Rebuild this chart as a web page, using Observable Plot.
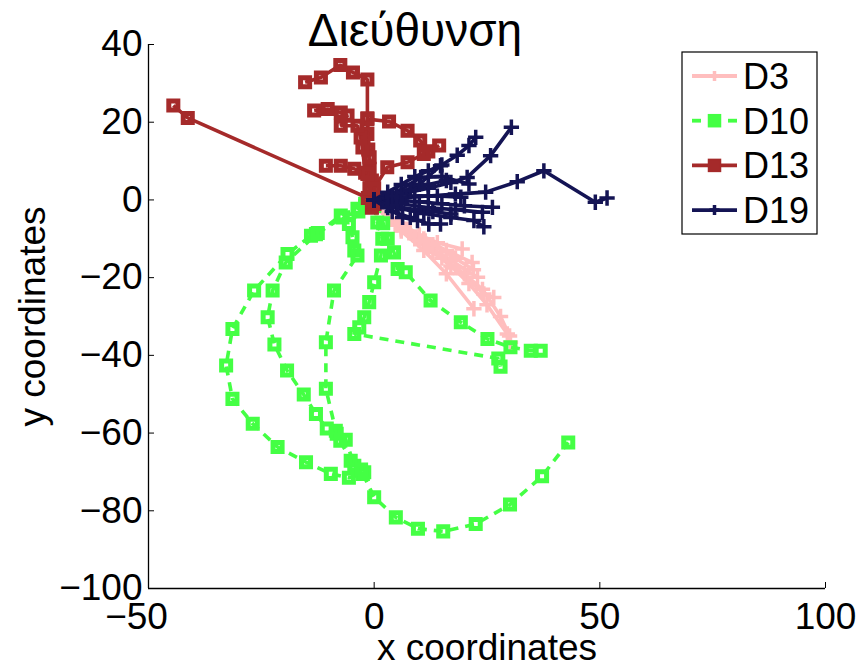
<!DOCTYPE html>
<html>
<head>
<meta charset="utf-8">
<script src="https://cdn.jsdelivr.net/npm/d3@7"></script>
<script src="https://cdn.jsdelivr.net/npm/@observablehq/plot@0.6"></script>
<style>
  html, body { margin: 0; padding: 0; background: #fff; }
</style>
</head>
<body>
<div id="chart"></div>
<script>
// ---- Chart values ----
const titleText = "Διεύθυνση";
const xLabel = "x coordinates";
const yLabel = "y coordinates";
const xDomain = [-50, 100];
const yDomain = [-100, 40];
const xTicks = [-50, 0, 50, 100];
const yTicks = [-100, -80, -60, -40, -20, 0, 20, 40];
const seriesNames = ["D3", "D10", "D13", "D19"];
const seriesColors = ["#FFBEBE", "#44FF44", "#A52A2A", "#141454"];

// Each series: list of trajectories, each a list of [x, y] points
const D3 = [
  [[0.5,-2],[5,-6.5],[9,-10],[13,-13.5],[17,-17],[21,-21.5],[25,-27],[29.5,-34.5],[30.2,-36.6]],
  [[0.5,-2],[6,-6],[10,-9],[14,-11],[19.5,-12.6]],
  [[0.5,-2],[6,-6.5],[11,-10],[16,-13],[21.7,-16.1]],
  [[0.5,-2],[6,-7],[11,-11],[17,-15.5],[22.9,-19.9]],
  [[0.5,-2],[6,-7.5],[12,-12.5],[18,-17.5],[24.3,-24.2],[26.5,-25.1]],
  [[0.5,-2],[6,-8],[11,-13],[16,-19],[22.1,-28.0]],
  [[0.5,-2],[5,-6],[10,-10.5],[15,-15],[20,-19],[24,-23],[28,-30],[30,-35]],
  [[0.5,-2],[4,-5],[8,-8],[13,-11.5],[18,-15],[22,-18]]
];
const D10 = [
  [[-2,-1.5],[-3.7,-2.3],[-7.4,-4.0],[-12.9,-8.8],[-14.0,-9.2],[-19.2,-13.9],[-26.6,-23.3],[-31.4,-33.2],[-32.8,-42.6],[-31.4,-51.2],[-26.9,-57.6],[-21.4,-63.6],[-15.1,-67.5],[-9.6,-70.5],[-5.6,-71.5],[-2.5,-70.5],[0,-76.5],[4.8,-81.7],[9.7,-84.6],[15.3,-85.3],[22.5,-83.4],[30.1,-78.4],[37.2,-71.1],[43.0,-62.4]],
  [[-2,-1],[-3.5,-3],[-7,-4.5],[-12.5,-8.5],[-19.6,-16.1],[-22.5,-23.3],[-23.6,-30.2],[-22.1,-37.2],[-19.3,-43.9],[-15.6,-50.1],[-12.9,-55.1],[-10.5,-58.8],[-8.3,-60.2],[-6.3,-61.7],[-4.4,-68.4],[-2.2,-70.1]],
  [[-1.5,-1],[-5.6,-6.2],[-4.8,-9.6],[-4.4,-13.0],[-3.7,-14.3],[-8.9,-23.3],[-10.7,-36.6],[-10.7,-48.6],[-8.5,-59.4],[-7.5,-62],[-5.2,-67.1],[-2.9,-69.4]],
  [[0,-1.5],[0.7,-5.8],[1.8,-10.0],[1.5,-14.3],[0,-21.2],[-1.1,-26.3],[-2.2,-30.2],[-3.3,-32.8],[-4.4,-34.5],[27.5,-40.8],[28,-42.9]],
  [[0,-1.5],[2,-6],[3,-10],[4.4,-13.5],[5.2,-17.8],[7.0,-18.6],[12.5,-25.9],[19.2,-31.5],[25.1,-35.8],[30.2,-37.9],[34.7,-38.8],[36.9,-38.8]]
];
const D13 = [
  [[0,0],[-1.4,0.5],[-41.3,21.1],[-44.5,24.3]],
  [[-0.5,-2],[-1,3],[-1,8],[-1.3,13],[-1.5,17],[-1.5,21],[-1.5,31],[-4.7,32.8],[-7.5,34.7],[-11.8,31.5],[-15.3,30.3]],
  [[0,-1],[-0.5,5],[-1,11],[-1.5,20.8],[3.3,20.2],[7.4,17.8],[10.2,15.3],[12,12.5]],
  [[0,-1],[-1,3],[-2,7],[-2.6,13.5],[-3.0,16.1],[-3.7,19.1],[-7.4,19.1],[-5.9,21.7],[-7.4,22.5],[-10.3,23.4],[-13.3,23.0]],
  [[0,-1],[-1.5,6.7],[-4.4,8.0],[-7.4,8.8],[-10.7,8.8]],
  [[0,-1],[0,3],[2.9,8.4],[7.4,9.7],[11.0,11.8],[14.4,14.0]]
];
const D19 = [
  [[0,0],[6,1.5],[12,3],[17,4.5],[20.6,5.8],[25.8,11.4],[30.4,18.7]],
  [[0,0],[5,1.5],[10,4],[14.7,8.8],[18.4,11.5],[21,14],[22.5,16.1]],
  [[0,0],[6,0.5],[12,1],[18,1.5],[24.7,2],[31.7,4.7],[37.6,7.5],[49,-0.6],[51.6,0.5]],
  [[0,0],[5,0],[10,-0.5],[15,-1],[20,-1.5],[26.2,-1.9]],
  [[0,0],[6,-1],[12,-2],[18,-2.5],[24,-3.2]],
  [[0,0],[5,-2],[11,-3.5],[17,-4.5],[22.1,-5.3],[24.3,-6.9]],
  [[0,0],[4,-3],[8,-4.5],[12.1,-6.2],[14.7,-6.2]],
  [[0,0],[5,2],[10.3,5.8],[15,6],[21,4.1]],
  [[0,0],[4,0.5],[9,1],[14,1],[19.2,0.7]],
  [[0,0],[4,-1.5],[9,-2.5],[13,-3],[17,-3.6]],
  [[0,0],[3,-2],[6.3,-4.5],[9.6,-5.3]],
  [[0,0],[3,2],[6,4],[9,6],[12,7.5],[15,9]],
  [[0,0],[4,1],[8,2.5],[12,4],[16,5]]
];
const seriesTracks = [D3, D10, D13, D19];

// ---- Styling ----
const seriesSymbols = ["plus", "square", "square", "plus"];
const seriesDash = [null, "9,7", null, null];
const FONT = "'Liberation Sans', Arial, Helvetica, sans-serif";
const TICK_FONT = 37;

// Build tidy rows
const rows = seriesNames.map((name, si) =>
  seriesTracks[si].flatMap((track, ti) =>
    track.map(([x, y]) => ({series: name, track: name + "-" + ti, x, y}))));

const seriesMarks = seriesNames.flatMap((name, si) => [
  Plot.line(rows[si], {
    x: "x", y: "y", z: "track",
    stroke: seriesColors[si], strokeWidth: 3.6,
    strokeDasharray: seriesDash[si] ?? undefined,
    strokeLinejoin: "miter", strokeLinecap: "butt"
  }),
  Plot.dot(rows[si], {
    x: "x", y: "y",
    symbol: seriesSymbols[si],
    r: seriesSymbols[si] === "plus" ? 5 : 5.1,
    stroke: seriesColors[si],
    strokeWidth: seriesSymbols[si] === "plus" ? 3.5 : 5,
    fill: "none"
  })
]);

// Legend drawn inside the SVG
function legendMark() {
  return () => {
    const g = d3.create("svg:g");
    const bx = 682, by = 52, bw = 135, bh = 182;
    g.append("rect").attr("x", bx).attr("y", by).attr("width", bw).attr("height", bh)
      .attr("fill", "white").attr("stroke", "black").attr("stroke-width", 1.2);
    seriesNames.forEach((name, i) => {
      const cy = by + 24 + i * 44.7;
      const c = seriesColors[i];
      if (seriesDash[i]) {
        g.append("line").attr("x1", 692).attr("x2", 701).attr("y1", cy).attr("y2", cy)
          .attr("stroke", c).attr("stroke-width", 3.8);
        g.append("line").attr("x1", 728).attr("x2", 737).attr("y1", cy).attr("y2", cy)
          .attr("stroke", c).attr("stroke-width", 3.8);
      } else {
        g.append("line").attr("x1", 692).attr("x2", 737).attr("y1", cy).attr("y2", cy)
          .attr("stroke", c).attr("stroke-width", 3.8);
      }
      if (seriesSymbols[i] === "square") {
        g.append("rect").attr("x", 714.5 - 6).attr("y", cy - 6).attr("width", 12).attr("height", 12)
          .attr("fill", c).attr("stroke", c).attr("stroke-width", 1.5);
      } else {
        g.append("path").attr("d", `M${714.5 - 5},${cy}H${714.5 + 5}M${714.5},${cy - 5}V${cy + 5}`)
          .attr("stroke", c).attr("stroke-width", 3.5).attr("fill", "none");
      }
      g.append("text").attr("x", 743).attr("y", cy + 13)
        .attr("text-anchor", "start")
        .attr("font-size", 36).attr("font-family", FONT).attr("fill", "black").text(name);
    });
    return g.node();
  };
}

const chart = Plot.plot({
  width: 861,
  height: 667,
  marginLeft: 148,
  marginRight: 36,
  marginTop: 44,
  marginBottom: 79,
  x: {domain: xDomain},
  y: {domain: yDomain},
  style: {fontFamily: FONT, background: "white", color: "black", overflow: "visible"},
  marks: [
    ...seriesMarks,
    // axis lines
    Plot.ruleX([xDomain[0]], {stroke: "black", strokeWidth: 1.3}),
    Plot.ruleY([yDomain[0]], {stroke: "black", strokeWidth: 1.3}),
    // inward ticks
    Plot.axisX(xTicks, {tickSize: 6, dy: -6, fill: "none", stroke: "black", label: null}),
    Plot.axisY(yTicks, {tickSize: 6, dx: 6, fill: "none", stroke: "black", label: null}),
    // tick labels
    Plot.axisX(xTicks.filter(d => d < 0), {tickSize: 0, tickPadding: 14, fontSize: TICK_FONT, dx: -12, label: null}),
    Plot.axisX(xTicks.filter(d => d >= 0), {tickSize: 0, tickPadding: 14, fontSize: TICK_FONT, label: null}),
    Plot.axisY(yTicks, {tickSize: 0, tickPadding: 6, fontSize: TICK_FONT, label: null}),
    // axis titles and title
    Plot.text([xLabel], {frameAnchor: "bottom", dy: 71, lineAnchor: "bottom", fontSize: 37, fill: "black"}),
    Plot.text([yLabel], {frameAnchor: "left", textAnchor: "middle", dx: -104, rotate: -90, lineAnchor: "bottom", fontSize: 37, fill: "black"}),
    Plot.text([titleText], {frameAnchor: "top", dx: -72, dy: 1, lineAnchor: "bottom", fontSize: 46, fill: "black"}),
    legendMark()
  ]
});

document.getElementById("chart").appendChild(chart);
</script>
</body>
</html>
